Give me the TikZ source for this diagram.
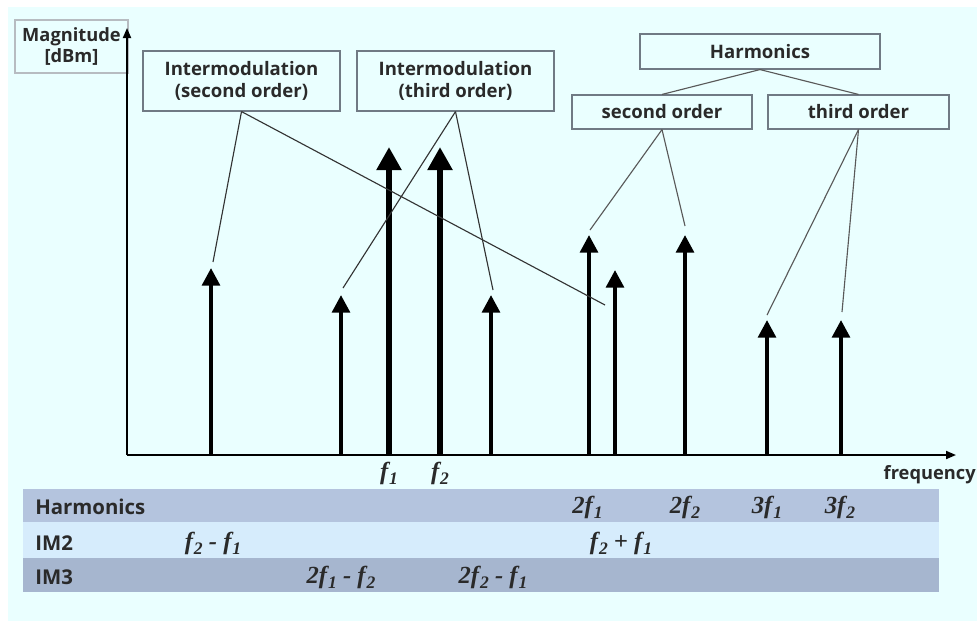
\documentclass[tikz,border=0pt]{standalone}
\usepackage{fontspec}
\setsansfont{Open Sans}
\newfontfamily\timesfont{Liberation Serif}
\usetikzlibrary{arrows.meta, positioning}
\definecolor{bgcolor}{HTML}{EAFFFF}
\definecolor{boxgray}{HTML}{707A84}
\definecolor{textgray}{HTML}{2A2A2A}
\definecolor{rowdark}{HTML}{B4C4DE}
\definecolor{rowlight}{HTML}{D6ECFC}
\definecolor{rowmid}{HTML}{A6B6CF}
\newcommand{\fq}[1]{\textit{f}\kern0.04em\raisebox{-0.45ex}{\fontsize{12.5}{13}\selectfont #1}}

\begin{document}
\begin{tikzpicture}[
    x=0.025cm, y=-0.025cm,
    lbox/.style={rectangle, draw=boxgray, line width=0.8pt, fill=bgcolor, align=center, inner sep=0, font=\sffamily\bfseries\fontsize{13.2}{16}\selectfont, text=textgray},
    spec/.style={line width=0.1cm, -{Triangle[width=0.44cm, length=0.44cm]}},
    carrier/.style={line width=0.16cm, -{Triangle[width=0.6cm, length=0.58cm]}},
    axis/.style={line width=1.3pt, -{Triangle[width=0.2cm, length=0.25cm]}},
    conn/.style={draw=black!80, line width=0.8pt},
    row/.style={rectangle, minimum width=22.9cm, inner sep=0, draw=none},
    rowlbl/.style={anchor=west, inner sep=0, font=\sffamily\bfseries\fontsize{14.5}{16}\selectfont, text=textgray},
    flbl/.style={inner sep=0, font=\timesfont\bfseries\itshape\fontsize{17.5}{19}\selectfont, text=textgray},
  ]
    \useasboundingbox (0,0) rectangle (977,621);
    \fill[white] (0,0) rectangle (977,621);
    \fill[bgcolor] (8,7) rectangle (977,621);

    % axes
    \node[lbox, minimum width=2.825cm, minimum height=1.325cm, draw=boxgray!50, font=\sffamily\bfseries\fontsize{13}{15}\selectfont] (mag) at (71.5,46.5) {Magnitude\\{}[dBm]};
    \coordinate (o) at (127,455);
    \coordinate (ytop) at (127,28);
    \coordinate (xend) at (956,455);
    \draw[axis] (o) -- (ytop);
    \draw[axis] (o) -- (xend);
    \node[inner sep=0, anchor=east, font=\sffamily\bfseries\fontsize{13}{15}\selectfont, text=textgray] (freq) at (976,475) {frequency};

    % spectral lines
    \foreach \x/\h/\n in {211/268/im2a, 341/295/im3a, 491/295/im3b, 589/235/h2a, 615/270/im2b, 685/235/h2b, 767/320/h3a, 841/320/h3b} {
      \coordinate (b\n) at (\x,455);
      \coordinate (\n) at (\x,\h);
      \draw[spec] (b\n) -- (\n);
    }
    \foreach \x/\n in {389/fa, 440/fb} {
      \coordinate (b\n) at (\x,455);
      \coordinate (\n) at (\x,147);
      \draw[carrier] (b\n) -- (\n);
    }
    \node[flbl] (lfa) at (389,473) {\fq{1}};
    \node[flbl] (lfb) at (440,473) {\fq{2}};

    % label boxes
    \node[lbox, minimum width=4.925cm, minimum height=1.5cm] (im2) at (241.5,81) {Intermodulation\\(second order)};
    \node[lbox, minimum width=4.925cm, minimum height=1.5cm] (im3) at (455.5,81) {Intermodulation\\(third order)};
    \node[lbox, minimum width=6cm, minimum height=0.875cm] (harm) at (760,51.5) {Harmonics};
    \node[lbox, minimum width=4.5cm, minimum height=0.85cm] (h2) at (662,112) {second order};
    \node[lbox, minimum width=4.525cm, minimum height=0.85cm] (h3) at (858.5,112) {third order};

    % connector ends
    \coordinate (cim2a) at (213,262);
    \coordinate (cim2b) at (605,305);
    \coordinate (cim3a) at (343,288);
    \coordinate (cim3b) at (493,290);
    \coordinate (ch2a) at (590,230);
    \coordinate (ch2b) at (685,226);
    \coordinate (ch3a) at (767,315);
    \coordinate (ch3b) at (842,312);

    \draw[conn] (im2.south) -- (cim2a);
    \draw[conn] (im2.south) -- (cim2b);
    \draw[conn] (im3.south) -- (cim3a);
    \draw[conn] (im3.south) -- (cim3b);
    \draw[conn, draw=black!65] (harm.south) -- (h2.north);
    \draw[conn, draw=black!65] (harm.south) -- (h3.north);
    \draw[conn, draw=black!65] (h2.south) -- (ch2a);
    \draw[conn, draw=black!65] (h2.south) -- (ch2b);
    \draw[conn, draw=black!65] (h3.south) -- (ch3a);
    \draw[conn, draw=black!65] (h3.south) -- (ch3b);

    % table
    \node[row, fill=rowdark, minimum height=0.825cm] (rh) at (481,505.5) {};
    \node[row, fill=rowlight, minimum height=0.9cm] (r2) at (481,540) {};
    \node[row, fill=rowmid, minimum height=0.85cm] (r3) at (481,575) {};
    \node[rowlbl] (lh) at (35,507) {Harmonics};
    \node[rowlbl] (l2) at (35,543) {IM2};
    \node[rowlbl] (l3) at (35,577) {IM3};

    \node[flbl] (t2a) at (587.5,507) {2\fq{1}};
    \node[flbl] (t2b) at (685,507) {2\fq{2}};
    \node[flbl] (t3a) at (767,507) {3\fq{1}};
    \node[flbl] (t3b) at (840,507) {3\fq{2}};
    \node[flbl] (tm2a) at (213,543) {\fq{2} - \fq{1}};
    \node[flbl] (tm2b) at (621,543) {\fq{2} + \fq{1}};
    \node[flbl] (tm3a) at (341,577) {2\fq{1} - \fq{2}};
    \node[flbl] (tm3b) at (493,577) {2\fq{2} - \fq{1}};
  \end{tikzpicture}
\end{document}
